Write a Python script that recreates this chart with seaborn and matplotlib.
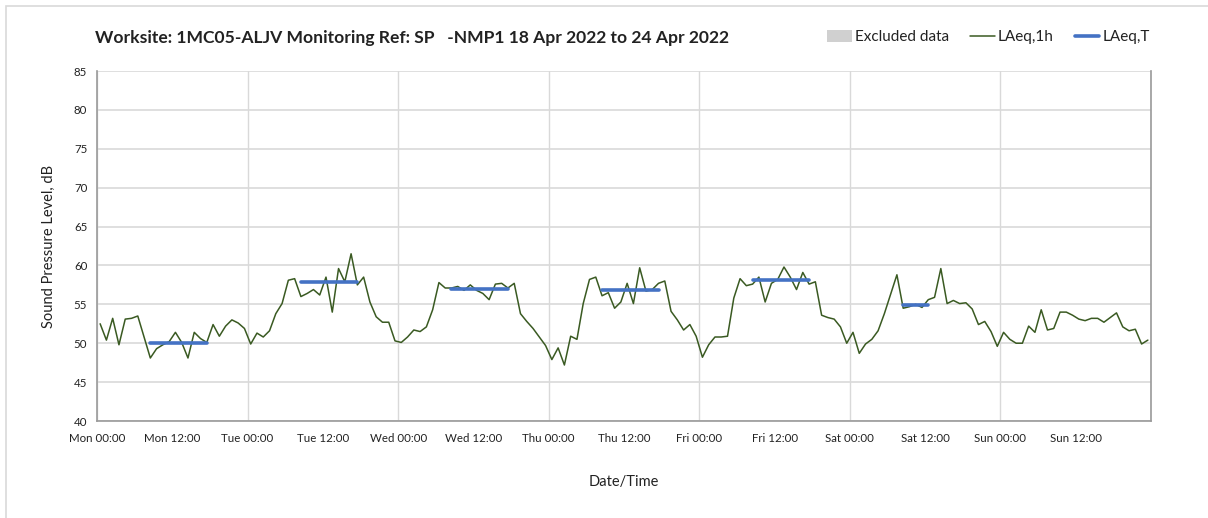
import numpy as np
import pandas as pd
import matplotlib
matplotlib.use("Agg")
import matplotlib.pyplot as plt
import matplotlib.dates as mdates
from matplotlib.lines import Line2D
from matplotlib.patches import Patch, Rectangle
from matplotlib.ticker import FuncFormatter
import seaborn as sns

# hourly LAeq,1h values, Mon 18 Apr 2022 00:00 -> Sun 24 Apr 2022 23:00
mon = [52.5, 50.4, 53.2, 49.8, 53.1, 53.2, 53.5, 50.8, 48.1, 49.3, 49.8, 50.2,
       51.4, 50.1, 48.1, 51.4, 50.6, 50.1, 52.4, 50.9, 52.2, 53.0, 52.6, 51.9]
tue = [49.9, 51.3, 50.8, 51.6, 53.8, 55.1, 58.1, 58.3, 56.0, 56.4, 56.9, 56.2,
       58.5, 54.0, 59.6, 57.9, 61.5, 57.5, 58.5, 55.3, 53.4, 52.7, 52.7, 50.3]
wed = [50.1, 50.8, 51.7, 51.5, 52.1, 54.3, 57.8, 57.1, 57.1, 57.3, 56.8, 57.5,
       56.8, 56.4, 55.6, 57.6, 57.7, 57.1, 57.7, 53.8, 52.8, 51.9, 50.8, 49.7]
thu = [47.9, 49.4, 47.2, 50.9, 50.5, 55.1, 58.2, 58.5, 56.1, 56.5, 54.5, 55.3,
       57.7, 55.1, 59.7, 56.7, 56.9, 57.7, 58.0, 54.1, 53.0, 51.7, 52.4, 50.9]
fri = [48.2, 49.8, 50.8, 50.8, 50.9, 55.8, 58.3, 57.4, 57.6, 58.5, 55.3, 57.7,
       58.2, 59.8, 58.5, 56.9, 59.1, 57.6, 57.9, 53.6, 53.3, 53.1, 52.1, 50.0]
sat = [51.4, 48.7, 49.9, 50.5, 51.6, 53.8, 56.3, 58.8, 54.5, 54.7, 55.0, 54.6,
       55.6, 55.9, 59.6, 55.1, 55.5, 55.1, 55.2, 54.4, 52.4, 52.8, 51.5, 49.6]
sun = [51.4, 50.5, 50.0, 50.0, 52.2, 51.4, 54.3, 51.7, 51.9, 54.0, 54.0, 53.6,
       53.1, 52.9, 53.2, 53.2, 52.7, 53.3, 53.9, 52.1, 51.6, 51.8, 49.9, 50.4]

# LAeq,T over the working-hours periods
laeqt_days = ["2022-04-18", "2022-04-19", "2022-04-20", "2022-04-21", "2022-04-22", "2022-04-23"]
laeqt_start = [8, 8, 8, 8, 8, 8]
laeqt_end = [18, 18, 18, 18, 18, 13]
laeqt_values = [50.0, 57.9, 57.0, 56.9, 58.1, 54.9]

title = "Worksite: 1MC05-ALJV Monitoring Ref: SP   -NMP1 18 Apr 2022 to 24 Apr 2022"

# points sit in the middle of each hour
times = pd.date_range("2022-04-18 00:30", periods=168, freq="h")
df = pd.DataFrame({"time": times, "LAeq,1h": mon + tue + wed + thu + fri + sat + sun})

rows = []
for i, day in enumerate(laeqt_days):
    t0 = pd.Timestamp(day) + pd.Timedelta(hours=laeqt_start[i])
    t1 = pd.Timestamp(day) + pd.Timedelta(hours=laeqt_end[i])
    for t in times[(times > t0) & (times < t1)]:
        rows.append({"time": t, "LAeq,T": laeqt_values[i], "period": i})
df_t = pd.DataFrame(rows)

sns.set_style("white")
plt.rcParams["font.family"] = ["Lato", "DejaVu Sans"]

green = "#3a5a22"
blue = "#4472c4"
grid_c = "#d9d9d9"

fig = plt.figure(figsize=(12.08, 5.18), dpi=100)
ax = fig.add_axes([97 / 1208, 1 - 421 / 518, (1151 - 97) / 1208, 350 / 518])

sns.lineplot(data=df, x="time", y="LAeq,1h", color=green, linewidth=1.1, ax=ax)
sns.lineplot(data=df_t, x="time", y="LAeq,T", units="period", estimator=None,
             color=blue, linewidth=2.6, ax=ax)

start = pd.Timestamp("2022-04-18")
end = pd.Timestamp("2022-04-25")
ax.set_xlim(start, end)
ax.set_ylim(40, 85)
ax.set_yticks(range(40, 86, 5))

end_num = mdates.date2num(end)
fmt = FuncFormatter(lambda x, pos: "" if x >= end_num - 1e-6 else mdates.num2date(x).strftime("%a %H:%M"))
ax.xaxis.set_major_locator(mdates.DayLocator())
ax.xaxis.set_minor_locator(mdates.HourLocator(byhour=[12]))
ax.xaxis.set_major_formatter(fmt)
ax.xaxis.set_minor_formatter(fmt)

ax.grid(axis="y", color=grid_c, linewidth=1.2)
ax.grid(axis="x", which="major", color=grid_c, linewidth=1.0)
ax.set_axisbelow(True)

for s in ["left", "bottom", "right"]:
    ax.spines[s].set_color("#9a9a9a")
    ax.spines[s].set_linewidth(1.2)
ax.spines["top"].set_visible(False)

ax.tick_params(axis="both", which="both", direction="out", length=4, color="#9a9a9a",
               labelsize=8.3, labelcolor="#222222", pad=3)
ax.tick_params(axis="x", which="both", pad=5)

ax.set_xlabel("Date/Time", fontsize=10.5, color="#222222", labelpad=22)
ax.set_ylabel("Sound Pressure Level, dB", fontsize=10.5, color="#222222", labelpad=13)

fig.text(95 / 1208, 1 - 38 / 518, title, fontsize=12.6, fontweight="bold",
         color="#222222", va="center", ha="left")

handles = [Patch(facecolor="#d0d0d0", edgecolor="none"),
           Line2D([], [], color=green, linewidth=1.1),
           Line2D([], [], color=blue, linewidth=2.6)]
fig.legend(handles, ["Excluded data", "LAeq,1h", "LAeq,T"], ncol=3, frameon=False,
           loc="center right", bbox_to_anchor=(1156 / 1208, 1 - 37 / 518),
           fontsize=11, handlelength=1.6, handleheight=0.8, handletextpad=0.2,
           columnspacing=1.4, labelcolor="#222222", borderaxespad=0)

# chart area border
fig.patches.append(Rectangle((6 / 1208, -0.01), 1.1, 1 - 6 / 518 + 0.01,
                             transform=fig.transFigure, fill=False,
                             edgecolor=grid_c, linewidth=1.2))

fig.savefig("out.png", dpi=100, facecolor="white")
